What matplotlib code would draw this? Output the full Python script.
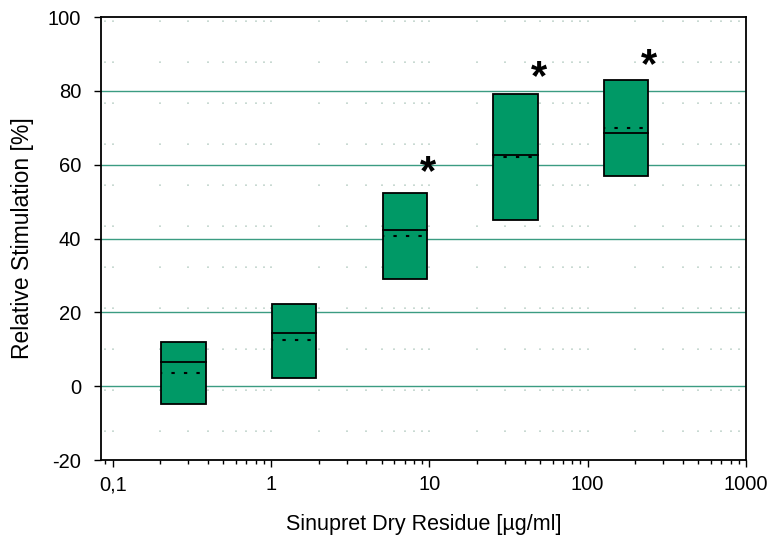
import matplotlib
matplotlib.use("Agg")
import matplotlib.pyplot as plt
from matplotlib.ticker import FixedLocator, LogLocator, NullFormatter

plt.rcParams['font.family'] = ['Liberation Sans', 'DejaVu Sans']
plt.rcParams['axes.unicode_minus'] = False

# Sinupret dry residue concentrations (µg/ml) and box statistics (%)
conc = [0.28, 1.4, 7, 35, 175]
q_low = [-4.9, 2.2, 29.1, 45.0, 56.9]
q_high = [11.9, 22.3, 52.4, 79.1, 82.9]
medians = [6.6, 14.3, 42.3, 62.7, 68.5]
means = [3.6, 12.4, 40.7, 62.0, 70.0]

# significance markers
star_x = [9.8, 49, 245]
star_y = [59.9, 85.6, 88.9]

x_ticks = [0.1, 1, 10, 100, 1000]
x_labels = ['0,1', '1', '10', '100', '1000']
y_ticks = [-20, 0, 20, 40, 60, 80, 100]

fill = '#009966'
grid_col = '#3b9c82'
half = 1.38  # multiplicative half-width of the boxes on the log axis

fig = plt.figure(figsize=(7.72, 5.4), dpi=100)
ax = fig.add_axes([0.1304, 0.1481, 0.8359, 0.8204])

ax.set_xscale('log')
ax.set_xlim(0.084, 1000)
ax.set_ylim(-20, 100)

# faint dotted vertical grid at every decade sub-tick
ax.xaxis.set_major_locator(FixedLocator(x_ticks))
ax.xaxis.set_minor_locator(LogLocator(base=10, subs=range(2, 10)))
ax.xaxis.set_minor_formatter(NullFormatter())
ax.grid(True, axis='x', which='both', color='#bfd3cb', linewidth=1.2,
        linestyle=(7.8, (1, 23.6)))

# solid horizontal lines
for y in [0, 20, 40, 60, 80]:
    ax.axhline(y, color=grid_col, linewidth=1.0, zorder=1)

lefts = [c / half for c in conc]
widths = [c * half - c / half for c in conc]
heights = [h - l for h, l in zip(q_high, q_low)]
ax.bar(lefts, heights, width=widths, bottom=q_low, align='edge',
       color=fill, edgecolor='black', linewidth=1.3, zorder=3)

for c, m, mu in zip(conc, medians, means):
    ax.plot([c / half, c * half], [m, m], color='black', linewidth=1.3, zorder=4)
    ax.plot([c / half, c * half], [mu, mu], color='black', linewidth=1.5,
            linestyle=(1.0, (1.6, 4.4)), zorder=4)

for sx, sy in zip(star_x, star_y):
    ax.annotate('*', xy=(sx, sy), xytext=(0, -6), textcoords='offset points',
                fontsize=30, fontweight='bold', ha='center', va='center',
                zorder=5)

ax.set_xticks(x_ticks)
ax.set_xticklabels(x_labels)
ax.set_yticks(y_ticks)

ax.tick_params(axis='both', which='major', direction='out', length=5,
               width=1, labelsize=14.5, colors='black')
ax.tick_params(axis='x', which='minor', direction='out', length=3, width=1)
ax.tick_params(axis='x', which='major', pad=6)
ax.tick_params(axis='y', which='major', pad=9)

for sp in ax.spines.values():
    sp.set_linewidth(1.3)
    sp.set_color('black')

ax.set_xlabel('Sinupret Dry Residue [µg/ml]', fontsize=15.5, labelpad=14)
ax.set_ylabel('Relative Stimulation [%]', fontsize=16.5, labelpad=10)

fig.savefig('out.png', dpi=100)
